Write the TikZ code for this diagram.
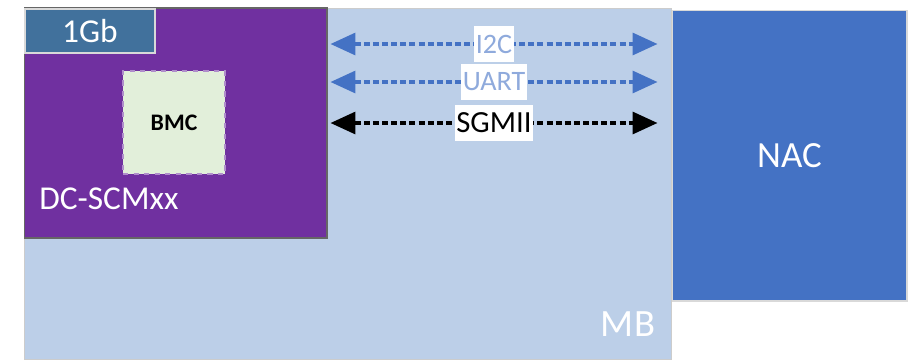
\documentclass[tikz,border=0pt]{standalone}
\usepackage{fontspec}
\setmainfont{Carlito}
\usetikzlibrary{arrows.meta,positioning}
\definecolor{mbfill}{HTML}{BCCFE8}
\definecolor{scmfill}{HTML}{7030A0}
\definecolor{gbfill}{HTML}{41719C}
\definecolor{bmcfill}{HTML}{E2EFDA}
\definecolor{nacfill}{HTML}{4472C4}
\definecolor{lanetext}{HTML}{8FAADC}
\tikzset{
  board/.style={draw=black!20,line width=0.6pt,fill=mbfill,inner sep=0pt},
  card/.style={draw=black!60,line width=0.6pt,fill=scmfill,inner sep=0pt},
  port/.style={draw=white!70!gray,line width=0.6pt,fill=gbfill,inner sep=0pt},
  chip/.style={draw=scmfill!55,dashed,line width=0.6pt,fill=bmcfill,inner sep=0pt},
  nacbox/.style={draw=black!15,line width=0.6pt,fill=nacfill,inner sep=0pt},
  boxtext/.style={text=white,font=\fontsize{19}{22}\selectfont},
  lane/.style={{Triangle[length=0.5cm,width=0.44cm]}-{Triangle[length=0.5cm,width=0.44cm]},line width=1.9pt,dash pattern=on 3.4pt off 1.8pt,nacfill},
  lanelabel/.style={fill=white,inner xsep=1pt,inner ysep=3pt,minimum height=0.72cm,font=\fontsize{16}{18}\selectfont}
}

\begin{document}
\begin{tikzpicture}[x=0.02cm,y=-0.02cm]
  \useasboundingbox (0,0) rectangle (911,359);
  % boards
  \node[board,minimum width=12.96cm,minimum height=7.04cm] (mb) at (348,184) {};
  \node[nacbox,minimum width=4.7cm,minimum height=5.82cm] (nac) at (789.5,155.5) {};
  \node[card,minimum width=6.06cm,minimum height=4.6cm] (scm) at (175.5,123) {};
  \node[port,minimum width=2.6cm,minimum height=0.88cm] (gb) at (90,31) {};
  \node[chip,minimum width=2.04cm,minimum height=2.06cm] (bmc) at (174,122.5) {};

  % texts on the boards
  \node[boxtext] (gbtext) at (gb) {1Gb};
  \node[font=\fontsize{13.5}{15}\selectfont\bfseries] (bmctext) at (bmc) {BMC};
  \node[boxtext,anchor=west,inner sep=0pt] (scmtext) at (39,199) {DC-SCMxx};
  \node[boxtext,font=\fontsize{21}{24}\selectfont] (nactext) at (nac) {NAC};
  \node[boxtext,font=\fontsize{22}{24}\selectfont] (mbtext) at (628,324) {MB};

  % links between the card and NAC
  \coordinate (i2cy) at (494,44);
  \coordinate (uarty) at (494,82);
  \coordinate (sgmiiy) at (494,123);
  \draw[lane] ([xshift=0.06cm]scm.east |- i2cy) -- ([xshift=-0.28cm]nac.west |- i2cy);
  \draw[lane] ([xshift=0.06cm]scm.east |- uarty) -- ([xshift=-0.28cm]nac.west |- uarty);
  \draw[lane,black] ([xshift=0.06cm]scm.east |- sgmiiy) -- ([xshift=-0.28cm]nac.west |- sgmiiy);
  \node[lanelabel,text=lanetext] (i2c) at (i2cy) {I2C};
  \node[lanelabel,text=lanetext] (uart) at (uarty) {UART};
  \node[lanelabel,font=\fontsize{17.5}{19}\selectfont] (sgmii) at (sgmiiy) {SGMII};
\end{tikzpicture}
\end{document}
